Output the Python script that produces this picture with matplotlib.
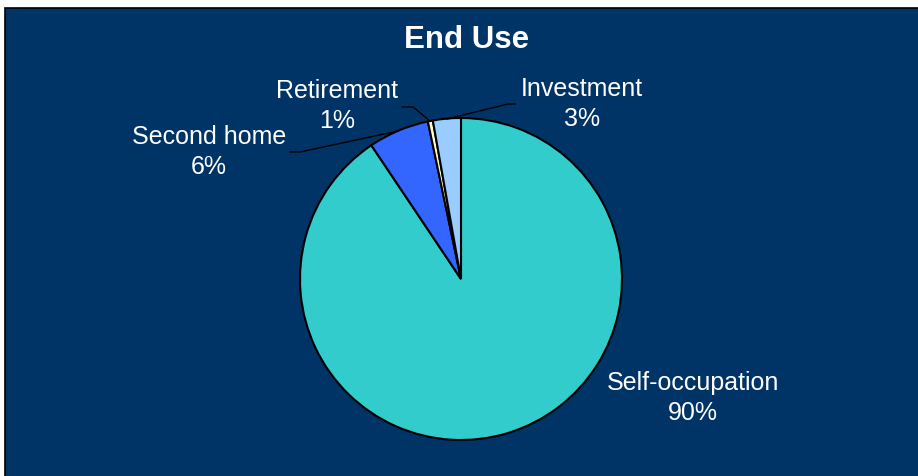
import matplotlib
matplotlib.use("Agg")
import matplotlib.pyplot as plt
from matplotlib.patches import Rectangle

categories = ["Self-occupation", "Second home", "Retirement", "Investment"]
values = [90.6, 6.1, 0.5, 2.8]
pct_labels = ["90%", "6%", "1%", "3%"]
colors = ["#33CCCC", "#3366FF", "#FFFFCC", "#99CCFF"]

plt.rcParams['font.family'] = ['Liberation Sans', 'DejaVu Sans']

W, H = 918, 477
fig = plt.figure(figsize=(W / 100, H / 100), dpi=100, facecolor="white")

# navy panel with border
fig.patches.append(Rectangle((5 / W, -0.01), 1.0, 1 - 9 / H + 0.01, transform=fig.transFigure,
                             facecolor="#003366", edgecolor="black", linewidth=1.2, zorder=-10))

fig.text(467 / W, 1 - 40 / H, "End Use", ha="center", va="center", color="white",
         fontsize=22.5, fontweight="bold")

cx, cy, r = 461, 280, 161
ax = fig.add_axes([(cx - r) / W, (H - cy - r) / H, 2 * r / W, 2 * r / H])
ax.pie(values, colors=colors, startangle=90, counterclock=False, radius=1,
       wedgeprops=dict(edgecolor="black", linewidth=1.5))
ax.set_xlim(-1, 1)
ax.set_ylim(-1, 1)
ax.set_aspect("equal")
ax.axis("off")

def d(px, py):
    return ((px - cx) / r, (cy - py) / r)

label_pos = [(693, 398), (209, 152), (337, 106), (582, 104)]
for cat, pct, (px, py) in zip(categories, pct_labels, label_pos):
    x, y = d(px, py)
    ax.text(x, y, f"{cat}\n{pct}", ha="center", va="center", color="white",
            fontsize=18, linespacing=1.35, clip_on=False)

leaders = [
    [(290, 153), (300, 153), (398, 132)],
    [(402, 108), (413, 108), (430, 122)],
    [(515, 105), (508, 105), (447, 120)],
]
for pts in leaders:
    xs, ys = zip(*[d(px, py) for px, py in pts])
    ax.plot(xs, ys, color="black", linewidth=1, clip_on=False)

fig.savefig("out.png", dpi=100, facecolor="white")
